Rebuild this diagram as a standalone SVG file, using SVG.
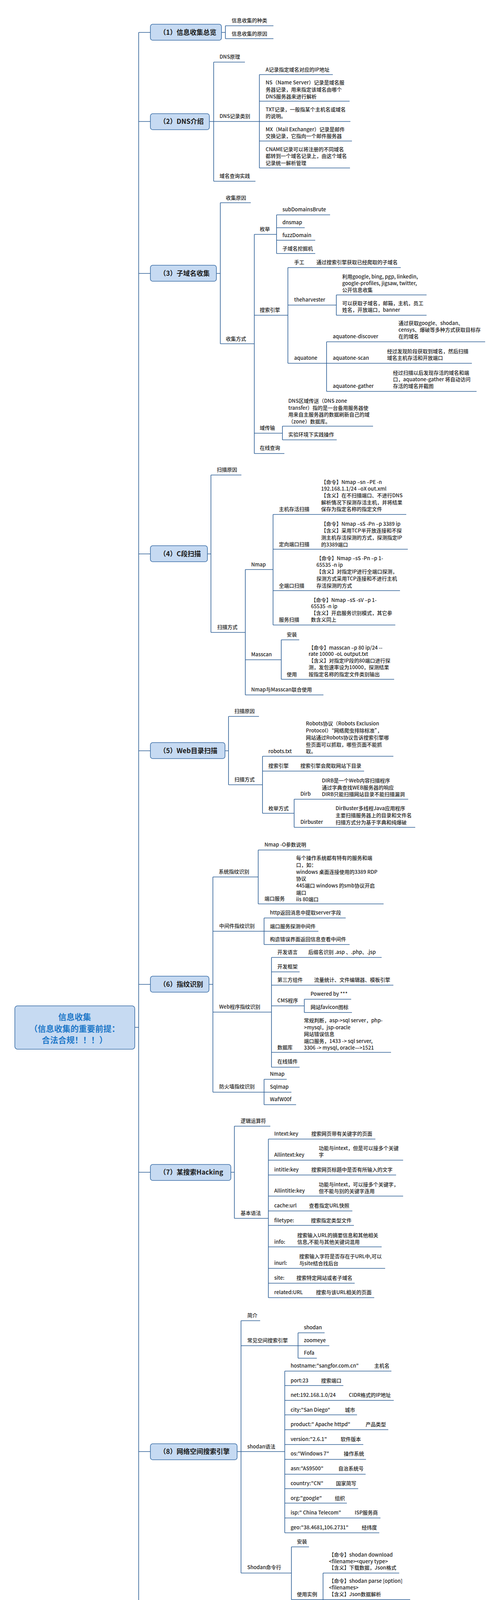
<svg xmlns="http://www.w3.org/2000/svg" width="1280" height="5314" viewBox="0 0 1280 5314">
<style>
text{font-family:"Noto Sans CJK SC","Noto Sans",sans-serif;font-size:13px;font-weight:500;fill:#1e1e1e;}
.h{font-size:17px;font-weight:bold;fill:#1a1a1a;}
.r{font-size:21px;font-weight:bold;fill:#1f78c8;text-anchor:middle;}
.u{stroke:#2e5f96;stroke-width:1.6;fill:none;}
.box{fill:#c6daf2;stroke:#3b6ea6;stroke-width:1.6;}
#connectors path{stroke:#2e5f96;stroke-width:1.6;fill:none;}
</style>
<rect width="1280" height="5314" fill="#ffffff"/>
<g id="connectors">
<path d="M355 83V5178M345 2630H355"/>
<path d="M355 83H385M567 83H577M577 66V99"/>
<path d="M355 311H385M536 311H547M547 159V464M664 191V430"/>
<path d="M355 700H385M554 700H564M564 519V880M651 600V1161M708 550V649M737 685V930M861 755V807M836 875V1002M723 1091V1126"/>
<path d="M355 1418H385M531 1418H540M540 1216V1619M628 1458V1779M699 1317V1600M720 1638V1739"/>
<path d="M355 1922H385M576 1922H585M585 1834V2009M672 1936V2082M753 2046V2118"/>
<path d="M355 2520H385M535 2520H545M545 2245V2796M661 2176V2314M676 2350V2418M695 2451V2732M779 2558V2592M676 2763V2828"/>
<path d="M355 3001H385M591 3001H600M600 2883V3119M687 2916V3322"/>
<path d="M355 3716H385M607 3716H617M617 3381V4027M763 3412V3477M729 3510V3924M746 3960V4095M827 4027V4162"/>
<path d="M355 4386H385M535 4386H544M544 4319V4454M602 4267V4370M634 4403V4505"/>
<path d="M355 4782H385M560 4782H570M570 4628V4935M716 4873V4997"/>
<path d="M355 5178H385M650 5178H660M660 5086V5270M747 5243V5298"/>
</g>

<g id="root">
<rect class="box" x="38" y="2575" width="307" height="111" rx="7"/>
<text class="r"><tspan x="191" y="2611">信息收集</tspan><tspan x="191" y="2641">（信息收集的重要前提：</tspan><tspan x="191" y="2670">合法合规！！！）</tspan></text>
</g>

<g id="s1">
<rect class="box" x="385" y="62" width="182" height="41" rx="6"/>
<text class="h" x="408" y="89">（1）信息收集总览</text>
</g>
<g id="s1-1"><text x="593" y="57">信息收集的种类</text><path class="u" d="M577 66H700"/></g>
<g id="s1-2"><text x="593" y="91">信息收集的原因</text><path class="u" d="M577 99H700"/></g>

<g id="s2">
<rect class="box" x="385" y="291" width="151" height="41" rx="6"/>
<text class="h" x="408" y="317">（2）DNS介绍</text>
</g>
<g id="s2-1"><text x="562" y="150">DNS原理</text><path class="u" d="M547 159H627"/></g>
<g id="s2-2"><text x="562" y="302">DNS记录类别</text><path class="u" d="M547 311H664"/></g>
<g id="s2-2-1"><text x="680" y="183">A记录指定域名对应的IP地址</text><path class="u" d="M664 191H852"/></g>
<g id="s2-2-2"><text><tspan x="680" y="216">NS（Name Server）记录是域名服</tspan><tspan x="680" y="234">务器记录，用来指定该域名由哪个</tspan><tspan x="680" y="252">DNS服务器来进行解析</tspan></text><path class="u" d="M664 259H895"/></g>
<g id="s2-2-3"><text><tspan x="680" y="285">TXT记录，一般指某个主机名或域名</tspan><tspan x="680" y="302">的说明。</tspan></text><path class="u" d="M664 311H897"/></g>
<g id="s2-2-4"><text><tspan x="680" y="336">MX（Mail Exchanger）记录是邮件</tspan><tspan x="680" y="353">交换记录，它指向一个邮件服务器</tspan></text><path class="u" d="M664 361H901"/></g>
<g id="s2-2-5"><text><tspan x="680" y="387">CNAME记录可以将注册的不同域名</tspan><tspan x="680" y="404">都转到一个域名记录上，由这个域名</tspan><tspan x="680" y="422">记录统一解析管理</tspan></text><path class="u" d="M664 430H896"/></g>
<g id="s2-3"><text x="562" y="455">域名查询实践</text><path class="u" d="M547 464H654"/></g>

<g id="s3">
<rect class="box" x="385" y="679" width="169" height="41" rx="6"/>
<text class="h" x="408" y="706">（3）子域名收集</text>
</g>
<g id="s3-1"><text x="578" y="511">收集原因</text><path class="u" d="M564 519H642"/></g>
<g id="s3-2"><text x="578" y="872">收集方式</text><path class="u" d="M564 880H651"/></g>
<g id="s3-2-1"><text x="665" y="591">枚举</text><path class="u" d="M651 600H708"/></g>
<g id="s3-2-1-1"><text x="723" y="541">subDomainsBrute</text><path class="u" d="M708 550H845"/></g>
<g id="s3-2-1-2"><text x="723" y="574">dnsmap</text><path class="u" d="M708 583H780"/></g>
<g id="s3-2-1-3"><text x="723" y="607">fuzzDomain</text><path class="u" d="M708 615H807"/></g>
<g id="s3-2-1-4"><text x="723" y="641">子域名挖掘机</text><path class="u" d="M708 649H807"/></g>
<g id="s3-2-2"><text x="665" y="798">搜索引擎</text><path class="u" d="M651 807H737"/></g>
<g id="s3-2-2-1"><text x="753" y="676">手工</text><text x="810" y="676">通过搜索引擎获取已经爬取的子域名</text><path class="u" d="M737 685H1026"/></g>
<g id="s3-2-2-2"><text x="753" y="772">theharvester</text><path class="u" d="M737 781H861"/></g>
<g id="s3-2-2-2-1"><text><tspan x="876" y="713">利用google, bing, pgp, linkedin,</tspan><tspan x="876" y="730">google-profiles, jigsaw, twitter,</tspan><tspan x="876" y="747">公开信息收集</tspan></text><path class="u" d="M861 755H1092"/></g>
<g id="s3-2-2-2-2"><text><tspan x="876" y="781">可以获取子域名，邮箱，主机，员工</tspan><tspan x="876" y="798">姓名，开放端口，banner</tspan></text><path class="u" d="M861 807H1092"/></g>
<g id="s3-2-2-3"><text x="753" y="921">aquatone</text><path class="u" d="M737 930H836"/></g>
<g id="s3-2-2-3-1"><text x="852" y="866">aquatone-discover</text><text><tspan x="1020" y="832">通过获取google、shodan、</tspan><tspan x="1020" y="849">censys、爆破等多种方式获取目标存</tspan><tspan x="1020" y="866">在的域名</tspan></text><path class="u" d="M836 875H1242"/></g>
<g id="s3-2-2-3-2"><text x="852" y="921">aquatone-scan</text><text><tspan x="991" y="904">经过发现阶段获取到域名，然后扫描</tspan><tspan x="991" y="921">域名主机存活和开放端口</tspan></text><path class="u" d="M836 930H1208"/></g>
<g id="s3-2-2-3-3"><text x="852" y="993">aquatone-gather</text><text><tspan x="1006" y="959">经过扫描以后发现存活的域名和端</tspan><tspan x="1006" y="976">口，aquatone-gather 将自动访问</tspan><tspan x="1006" y="993">存活的域名并截图</tspan></text><path class="u" d="M836 1002H1220"/></g>
<g id="s3-2-3"><text x="665" y="1100">域传输</text><path class="u" d="M651 1109H723"/></g>
<g id="s3-2-3-1"><text><tspan x="738" y="1031">DNS区域传送（DNS zone</tspan><tspan x="738" y="1049">transfer）指的是一台备用服务器使</tspan><tspan x="738" y="1066">用来自主服务器的数据刷新自己的域</tspan><tspan x="738" y="1084">（zone）数据库。</tspan></text><path class="u" d="M723 1091H955"/></g>
<g id="s3-2-3-2"><text x="738" y="1117">实验环境下实践操作</text><path class="u" d="M723 1126H862"/></g>
<g id="s3-2-4"><text x="665" y="1151">在线查询</text><path class="u" d="M651 1161H728"/></g>

<g id="s4">
<rect class="box" x="385" y="1397" width="146" height="41" rx="6"/>
<text class="h" x="408" y="1424">（4）C段扫描</text>
</g>
<g id="s4-1"><text x="555" y="1207">扫描原因</text><path class="u" d="M540 1216H618"/></g>
<g id="s4-2"><text x="556" y="1610">扫描方式</text><path class="u" d="M540 1619H628"/></g>
<g id="s4-2-1"><text x="643" y="1450">Nmap</text><path class="u" d="M628 1458H699"/></g>
<g id="s4-2-1-1"><text x="714" y="1308">主机存活扫描</text><text><tspan x="822" y="1239">【命令】Nmap –sn –PE -n</tspan><tspan x="822" y="1256">192.168.1.1/24 –oX out.xml</tspan><tspan x="822" y="1273">【含义】在不扫描端口、不进行DNS</tspan><tspan x="822" y="1291">解析情况下探测存活主机，并将结果</tspan><tspan x="822" y="1308">保存为指定名称的指定文件</tspan></text><path class="u" d="M699 1317H1040"/></g>
<g id="s4-2-1-2"><text x="714" y="1398">定向端口扫描</text><text><tspan x="822" y="1346">【命令】Nmap –sS -Pn –p 3389 ip</tspan><tspan x="822" y="1363">【含义】采用TCP半开放连接和不探</tspan><tspan x="822" y="1381">测主机存活探测的方式，探测指定IP</tspan><tspan x="822" y="1399">的3389端口</tspan></text><path class="u" d="M699 1406H1044"/></g>
<g id="s4-2-1-3"><text x="714" y="1504">全端口扫描</text><text><tspan x="810" y="1434">【命令】Nmap –sS -Pn –p 1-</tspan><tspan x="810" y="1451">65535 -n ip</tspan><tspan x="810" y="1468">【含义】对指定IP进行全端口探测，</tspan><tspan x="810" y="1486">探测方式采用TCP连接和不进行主机</tspan><tspan x="810" y="1504">存活探测的方式</tspan></text><path class="u" d="M699 1512H1024"/></g>
<g id="s4-2-1-4"><text x="714" y="1591">服务扫描</text><text><tspan x="796" y="1541">【命令】Nmap –sS -sV –p 1-</tspan><tspan x="796" y="1557">65535 -n ip</tspan><tspan x="796" y="1574">【含义】开启服务识别模式，其它参</tspan><tspan x="796" y="1591">数含义同上</tspan></text><path class="u" d="M699 1600H1012"/></g>
<g id="s4-2-2"><text x="643" y="1680">Masscan</text><path class="u" d="M628 1689H720"/></g>
<g id="s4-2-2-1"><text x="734" y="1629">安装</text><path class="u" d="M720 1638H766"/></g>
<g id="s4-2-2-2"><text x="734" y="1731">使用</text><text><tspan x="790" y="1663">【命令】masscan –p 80 ip/24 --</tspan><tspan x="790" y="1679">rate 10000  -oL output.txt</tspan><tspan x="790" y="1696">【含义】对指定IP段的80端口进行探</tspan><tspan x="790" y="1713">测，发包速率设为10000，探测结果</tspan><tspan x="790" y="1731">按指定名称的指定文件类别输出</tspan></text><path class="u" d="M720 1739H1009"/></g>
<g id="s4-2-3"><text x="643" y="1770">Nmap与Masscan联合使用</text><path class="u" d="M628 1779H828"/></g>

<g id="s5">
<rect class="box" x="385" y="1901" width="191" height="41" rx="6"/>
<text class="h" x="408" y="1928">（5）Web目录扫描</text>
</g>
<g id="s5-1"><text x="600" y="1825">扫描原因</text><path class="u" d="M585 1834H663"/></g>
<g id="s5-2"><text x="600" y="2000">扫描方式</text><path class="u" d="M585 2009H672"/></g>
<g id="s5-2-1"><text x="687" y="1928">robots.txt</text><text><tspan x="783" y="1857">Robots协议（Robots Exclusion</tspan><tspan x="783" y="1875">Protocol）“网络爬虫排除标准”，</tspan><tspan x="783" y="1893">网站通过Robots协议告诉搜索引擎哪</tspan><tspan x="783" y="1911">些页面可以抓取，哪些页面不能抓</tspan><tspan x="783" y="1928">取。</tspan></text><path class="u" d="M672 1936H1007"/></g>
<g id="s5-2-2"><text x="687" y="1965">搜索引擎</text><text x="769" y="1965">搜索引擎会爬取网站下目录</text><path class="u" d="M672 1974H932"/></g>
<g id="s5-2-3"><text x="687" y="2074">枚举方式</text><path class="u" d="M672 2082H753"/></g>
<g id="s5-2-3-1"><text x="769" y="2037">Dirb</text><text><tspan x="824" y="2003">DIRB是一个Web内容扫描程序</tspan><tspan x="824" y="2021">通过字典查找WEB服务器的响应</tspan><tspan x="824" y="2038">DIRB只能扫描网站目录不能扫描漏洞</tspan></text><path class="u" d="M753 2046H1045"/></g>
<g id="s5-2-3-2"><text x="769" y="2109">Dirbuster</text><text><tspan x="859" y="2074">DirBuster多线程Java应用程序</tspan><tspan x="859" y="2092">主要扫描服务器上的目录和文件名</tspan><tspan x="859" y="2110">扫描方式分为基于字典和纯爆破</tspan></text><path class="u" d="M753 2118H1063"/></g>

<g id="s6">
<rect class="box" x="385" y="2499" width="150" height="41" rx="6"/>
<text class="h" x="408" y="2526">（6）指纹识别</text>
</g>
<g id="s6-1"><text x="560" y="2236">系统指纹识别</text><path class="u" d="M545 2245H661"/></g>
<g id="s6-1-1"><text x="677" y="2167">Nmap -O参数说明</text><path class="u" d="M661 2176H794"/></g>
<g id="s6-1-2"><text x="677" y="2305">端口服务</text><text><tspan x="758" y="2201">每个操作系统都有特有的服务和端</tspan><tspan x="758" y="2219">口，如：</tspan><tspan x="758" y="2237">windows 桌面连接使用的3389 RDP</tspan><tspan x="758" y="2254">协议</tspan><tspan x="758" y="2272">445端口 windows 的smb协议开启</tspan><tspan x="758" y="2290">端口</tspan><tspan x="758" y="2307">iis 80端口</tspan></text><path class="u" d="M661 2314H982"/></g>
<g id="s6-2"><text x="561" y="2375">中间件指纹识别</text><path class="u" d="M545 2384H676"/></g>
<g id="s6-2-1"><text x="691" y="2341">http返回消息中提取server字段</text><path class="u" d="M676 2350H885"/></g>
<g id="s6-2-2"><text x="691" y="2376">端口服务探测中间件</text><path class="u" d="M676 2384H815"/></g>
<g id="s6-2-3"><text x="691" y="2409">构造错误界面返回信息查看中间件</text><path class="u" d="M676 2418H895"/></g>
<g id="s6-3"><text x="561" y="2582">Web程序指纹识别</text><path class="u" d="M545 2591H695"/></g>
<g id="s6-3-1"><text x="710" y="2442">开发语言</text><text x="789" y="2442">后缀名识别 .asp 、.php、.jsp</text><path class="u" d="M695 2451H977"/></g>
<g id="s6-3-2"><text x="710" y="2479">开发框架</text><path class="u" d="M695 2488H767"/></g>
<g id="s6-3-3"><text x="710" y="2513">第三方组件</text><text x="804" y="2513">流量统计、文件编辑器、模板引擎</text><path class="u" d="M695 2522H1007"/></g>
<g id="s6-3-4"><text x="710" y="2566">CMS程序</text><path class="u" d="M695 2575H779"/></g>
<g id="s6-3-4-1"><text x="795" y="2549">Powered by ***</text><path class="u" d="M779 2558H899"/></g>
<g id="s6-3-4-2"><text x="795" y="2583">网站favicon图标</text><path class="u" d="M779 2592H901"/></g>
<g id="s6-3-5"><text x="710" y="2686">数据库</text><text><tspan x="778" y="2617">常规判断，asp-&gt;sql server，php-</tspan><tspan x="778" y="2635">&gt;mysql，jsp-oracle</tspan><tspan x="778" y="2652">网站错误信息</tspan><tspan x="778" y="2670">端口服务，1433 -&gt; sql server,</tspan><tspan x="778" y="2687">3306 -&gt; mysql, oracle—&gt;1521</tspan></text><path class="u" d="M695 2694H1001"/></g>
<g id="s6-3-6"><text x="710" y="2722">在线插件</text><path class="u" d="M695 2732H767"/></g>
<g id="s6-4"><text x="561" y="2786">防火墙指纹识别</text><path class="u" d="M545 2796H676"/></g>
<g id="s6-4-1"><text x="691" y="2754">Nmap</text><path class="u" d="M676 2763H734"/></g>
<g id="s6-4-2"><text x="691" y="2787">Sqlmap</text><path class="u" d="M676 2796H746"/></g>
<g id="s6-4-3"><text x="691" y="2819">WafW00f</text><path class="u" d="M676 2828H758"/></g>

<g id="s7">
<rect class="box" x="385" y="2981" width="206" height="41" rx="6"/>
<text class="h" x="408" y="3007">（7）某搜索Hacking</text>
</g>
<g id="s7-1"><text x="616" y="2874">逻辑运算符</text><path class="u" d="M600 2883H692"/></g>
<g id="s7-2"><text x="616" y="3110">基本语法</text><path class="u" d="M600 3119H687"/></g>
<g id="s7-2-1"><text x="702" y="2907">Intext:key</text><text x="797" y="2907">搜索网页带有关键字的页面</text><path class="u" d="M687 2916H961"/></g>
<g id="s7-2-2"><text x="702" y="2961">Allintext:key</text><text><tspan x="816" y="2944">功能与intext，但是可以接多个关键</tspan><tspan x="816" y="2961">字</tspan></text><path class="u" d="M687 2970H1032"/></g>
<g id="s7-2-3"><text x="702" y="2999">intitle:key</text><text x="797" y="2999">搜索网页标题中是否有所输入的文字</text><path class="u" d="M687 3008H1014"/></g>
<g id="s7-2-4"><text x="702" y="3053">Allintitle:key</text><text><tspan x="816" y="3037">功能与intext，可以接多个关键字，</tspan><tspan x="816" y="3054">但不能与别的关键字连用</tspan></text><path class="u" d="M687 3062H1032"/></g>
<g id="s7-2-5"><text x="702" y="3091">cache:url</text><text x="791" y="3091">查看指定URL快照</text><path class="u" d="M687 3100H902"/></g>
<g id="s7-2-6"><text x="702" y="3129">filetype:</text><text x="796" y="3129">搜索指定类型文件</text><path class="u" d="M687 3137H906"/></g>
<g id="s7-2-7"><text x="702" y="3184">info:</text><text><tspan x="761" y="3167">搜索输入URL的摘要信息和其他相关</tspan><tspan x="761" y="3184">信息,不能与其他关键词混用</tspan></text><path class="u" d="M687 3192H977"/></g>
<g id="s7-2-8"><text x="702" y="3238">inurl:</text><text><tspan x="766" y="3221">搜索输入字符是否存在于URL中,可以</tspan><tspan x="766" y="3239">与site结合找后台</tspan></text><path class="u" d="M687 3247H986"/></g>
<g id="s7-2-9"><text x="702" y="3276">site:</text><text x="759" y="3276">搜索特定网站或者子域名</text><path class="u" d="M687 3285H908"/></g>
<g id="s7-2-10"><text x="702" y="3313">related:URL</text><text x="809" y="3313">搜索与该URL相关的页面</text><path class="u" d="M687 3322H958"/></g>

<g id="s8">
<rect class="box" x="385" y="3696" width="222" height="41" rx="6"/>
<text class="h" x="408" y="3722">（8）网络空间搜索引擎</text>
</g>
<g id="s8-1"><text x="633" y="3372">简介</text><path class="u" d="M617 3381H666"/></g>
<g id="s8-2"><text x="633" y="3436">常见空间搜索引擎</text><path class="u" d="M617 3445H763"/></g>
<g id="s8-2-1"><text x="778" y="3403">shodan</text><path class="u" d="M763 3412H831"/></g>
<g id="s8-2-2"><text x="778" y="3436">zoomeye</text><path class="u" d="M763 3445H843"/></g>
<g id="s8-2-3"><text x="778" y="3468">Fofa</text><path class="u" d="M763 3477H811"/></g>
<g id="s8-3"><text x="633" y="3708">shodan语法</text><path class="u" d="M617 3716H729"/></g>
<g id="s8-3-1"><text x="744" y="3501">hostname:"sangfor.com.cn"</text><text x="958" y="3501">主机名</text><path class="u" d="M729 3510H1002"/></g>
<g id="s8-3-2"><text x="744" y="3539">port:23</text><text x="822" y="3539">搜索端口</text><path class="u" d="M729 3547H879"/></g>
<g id="s8-3-3"><text x="744" y="3576">net:192.168.1.0/24</text><text x="893" y="3576">CIDR格式的IP地址</text><path class="u" d="M729 3585H1008"/></g>
<g id="s8-3-4"><text x="744" y="3614">city:"San Diego"</text><text x="883" y="3614">城市</text><path class="u" d="M729 3622H914"/></g>
<g id="s8-3-5"><text x="744" y="3651">product:" Apache httpd"</text><text x="936" y="3651">产品类型</text><path class="u" d="M729 3660H994"/></g>
<g id="s8-3-6"><text x="744" y="3689">version:"2.6.1"</text><text x="872" y="3689">软件版本</text><path class="u" d="M729 3698H930"/></g>
<g id="s8-3-7"><text x="744" y="3726">os:"Windows 7"</text><text x="880" y="3726">操作系统</text><path class="u" d="M729 3736H937"/></g>
<g id="s8-3-8"><text x="744" y="3764">asn:"AS9500"</text><text x="866" y="3764">自治系统号</text><path class="u" d="M729 3774H936"/></g>
<g id="s8-3-9"><text x="744" y="3802">country:"CN"</text><text x="860" y="3802">国家简写</text><path class="u" d="M729 3811H917"/></g>
<g id="s8-3-10"><text x="744" y="3840">org:"google"</text><text x="857" y="3840">组织</text><path class="u" d="M729 3848H888"/></g>
<g id="s8-3-11"><text x="744" y="3877">isp:" China Telecom"</text><text x="908" y="3877">ISP服务商</text><path class="u" d="M729 3886H974"/></g>
<g id="s8-3-12"><text x="744" y="3915">geo:"38.4681,106.2731"</text><text x="926" y="3915">经纬度</text><path class="u" d="M729 3924H971"/></g>
<g id="s8-4"><text x="633" y="4017">Shodan命令行</text><path class="u" d="M617 4027H746"/></g>
<g id="s8-4-1"><text x="760" y="3951">安装</text><path class="u" d="M746 3960H791"/></g>
<g id="s8-4-2"><text x="760" y="4086">使用实例</text><path class="u" d="M746 4095H827"/></g>
<g id="s8-4-2-1"><text><tspan x="842" y="3985">【命令】shodan download</tspan><tspan x="842" y="4002">&lt;filename&gt;&lt;query type&gt;</tspan><tspan x="842" y="4018">【含义】下载数据，Json格式</tspan></text><path class="u" d="M827 4027H1022"/></g>
<g id="s8-4-2-2"><text><tspan x="842" y="4052">【命令】shodan parse [option]</tspan><tspan x="842" y="4069">&lt;filenames&gt;</tspan><tspan x="842" y="4086">【含义】Json数据解析</tspan></text><path class="u" d="M827 4095H1050"/></g>
<g id="s8-4-2-3"><text><tspan x="842" y="4120">【命令】shodan host [option]</tspan><tspan x="842" y="4136">&lt;ip&gt;</tspan><tspan x="842" y="4153">【含义】host搜索指定IP</tspan></text><path class="u" d="M827 4162H1042"/></g>

<g id="s9">
<rect class="box" x="385" y="4366" width="150" height="41" rx="6"/>
<text class="h" x="408" y="4392">（9）情报分析</text>
</g>
<g id="s9-1"><text x="560" y="4310">简介</text><path class="u" d="M544 4319H602"/></g>
<g id="s9-1-1"><text><tspan x="617" y="4207">广义上情报分析是对全源数据进行综</tspan><tspan x="617" y="4225">合、评估、分析和解读，将处理过的</tspan><tspan x="617" y="4242">信息转化为情报以满足已知或预期用</tspan><tspan x="617" y="4260">户需求的过程。</tspan></text><path class="u" d="M602 4267H833"/></g>
<g id="s9-1-2"><text><tspan x="617" y="4292">实际上对于网络空间情报分析主要对</tspan><tspan x="617" y="4310">于目标的ip,域名，电话，邮箱，位</tspan><tspan x="617" y="4328">置，员工，公司出口网络，内部网络</tspan><tspan x="617" y="4346">等等进行收集，然后进行综合判断整</tspan><tspan x="617" y="4364">理汇聚成数据库。</tspan></text><path class="u" d="M602 4370H833"/></g>
<g id="s9-2"><text x="560" y="4445">Maltego</text><path class="u" d="M544 4454H634"/></g>
<g id="s9-2-1"><text x="649" y="4394">注册</text><path class="u" d="M634 4403H680"/></g>
<g id="s9-2-2"><text x="649" y="4428">域名类</text><path class="u" d="M634 4437H692"/></g>
<g id="s9-2-3"><text x="649" y="4462">通用类</text><path class="u" d="M634 4471H692"/></g>
<g id="s9-2-4"><text x="649" y="4496">插件扩充</text><path class="u" d="M634 4505H706"/></g>

<g id="s12">
<rect class="box" x="385" y="4761" width="175" height="41" rx="6"/>
<text class="h" x="408" y="4788">（12）office钓鱼</text>
</g>
<g id="s12-1"><text x="585" y="4619">Office钓鱼介绍</text><text><tspan x="719" y="4550">攻击者在无需交互、用户无感知的情</tspan><tspan x="719" y="4568">况下，执行Office文档中内嵌的一段</tspan><tspan x="719" y="4585">恶意代码，从远控地址中下载并运行</tspan><tspan x="719" y="4603">恶意可执行程序。例如：远控木马或</tspan><tspan x="719" y="4620">者勒索病毒等。</tspan></text><path class="u" d="M570 4628H937"/></g>
<g id="s12-2"><text x="585" y="4706">Cobalt Strike钓鱼</text><text><tspan x="739" y="4655">攻击者使用Cobalt Strike office钓</tspan><tspan x="739" y="4673">鱼，主要方法是生成一段vba代码，</tspan><tspan x="739" y="4691">然后将代码复制到office 套件中，当</tspan><tspan x="739" y="4709">用户启动office自动运行。</tspan></text><path class="u" d="M570 4716H959"/></g>
<g id="s12-3"><text x="585" y="4926">CVE-2017-11882</text><path class="u" d="M570 4935H716"/></g>
<g id="s12-3-1"><text x="731" y="4864">漏洞简介</text><text><tspan x="817" y="4743">漏洞为Office内存破坏漏洞，影响当</tspan><tspan x="817" y="4761">时主流的所有Office版本。攻击者可</tspan><tspan x="817" y="4778">以利用漏洞以当前登录的用户的身份</tspan><tspan x="817" y="4796">执行任意命令。</tspan><tspan x="817" y="4814">该漏洞出现在模块EQNEDT32.EXE</tspan><tspan x="817" y="4831">中，属于栈溢出漏洞，是对</tspan><tspan x="817" y="4849">Equation Native 数据结构处理不当</tspan><tspan x="817" y="4867">导致。</tspan></text><path class="u" d="M716 4873H1038"/></g>
<g id="s12-3-2"><text x="731" y="4948">影响版本</text><text><tspan x="817" y="4900">Microsoft Office 2007</tspan><tspan x="817" y="4915">Microsoft Office 2010</tspan><tspan x="817" y="4931">Microsoft Office 2013</tspan><tspan x="817" y="4947">Microsoft Office 2016</tspan></text><path class="u" d="M716 4958H967"/></g>
<g id="s12-3-3"><text x="731" y="4988">实验环境复现</text><path class="u" d="M716 4997H822"/></g>

<g id="s14">
<rect class="box" x="385" y="5158" width="265" height="41" rx="6"/>
<text class="h" x="408" y="5184">（14）网站克隆和钓鱼邮件</text>
</g>
<g id="s14-1"><text x="675" y="5077">网站克隆</text><text><tspan x="762" y="5042">复制目标网站前端信息</tspan><tspan x="762" y="5060">构建相似网页</tspan><tspan x="762" y="5078">攻击者获取用户登录数据</tspan></text><path class="u" d="M660 5086H912"/></g>
<g id="s14-2"><text x="675" y="5261">钓鱼邮件</text><path class="u" d="M660 5270H747"/></g>
<g id="s14-2-1"><text x="762" y="5233">介绍</text><text><tspan x="821" y="5113">钓鱼邮件指利用伪装的电邮，欺骗收</tspan><tspan x="821" y="5131">件人将账号、口令等信息回复给指定</tspan><tspan x="821" y="5149">的接收者；或引导收件人连接到特制</tspan><tspan x="821" y="5166">的网页，这些网页通常会伪装成和真</tspan><tspan x="821" y="5184">实网站一样，如银行或理财的网页，</tspan><tspan x="821" y="5202">令登录者信以为真，输入信用卡或银</tspan><tspan x="821" y="5220">行卡号码、账户名称及密码等而被盗</tspan><tspan x="821" y="5238">取。</tspan></text><path class="u" d="M747 5243H1036"/></g>
<g id="s14-2-2"><text x="762" y="5288">Swaks</text><text><tspan x="841" y="5272">【命令1】swaks -to xxx@qq.com</tspan><tspan x="841" y="5289">【含义】测试邮箱连通性</tspan></text><path class="u" d="M747 5298H1061"/></g>
</svg>
